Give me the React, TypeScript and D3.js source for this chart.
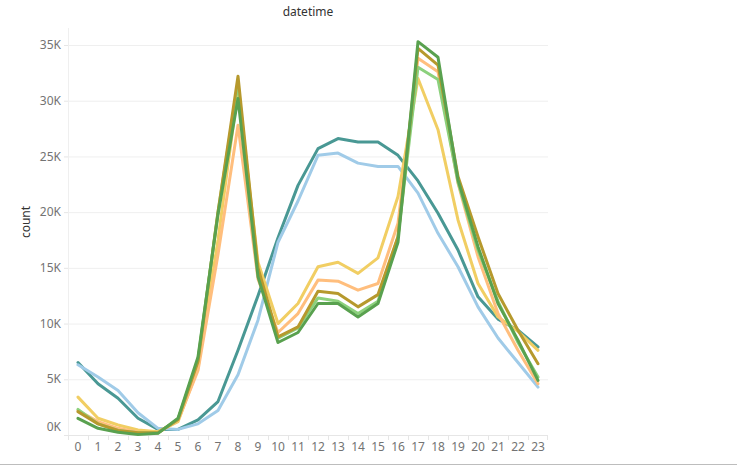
import React from "react";
import * as d3 from "d3";

const hours = d3.range(24).map(String);
const yTicks = [0, 5000, 10000, 15000, 20000, 25000, 30000, 35000];

// series values (count) per hour 0..23
const teal = [6500, 4600, 3300, 1500, 500, 500, 1350, 3000, 7600, 12500, 17700, 22400, 25700, 26600, 26300, 26300, 25100, 22800, 19900, 16600, 12400, 10400, 9400, 7900];
const lightBlue = [6300, 5200, 4000, 2000, 600, 500, 1000, 2200, 5400, 10300, 17300, 21000, 25100, 25300, 24400, 24100, 24100, 21700, 18100, 15100, 11500, 8700, 6500, 4300];
const yellow = [3400, 1500, 900, 450, 300, 1200, 6000, 17500, 31000, 15500, 10000, 11800, 15100, 15500, 14500, 15900, 21400, 32000, 27400, 19300, 13600, 10600, 9300, 7600];
const orange = [2200, 1200, 600, 250, 200, 1300, 5800, 16200, 27800, 14000, 9200, 10900, 13900, 13800, 13000, 13600, 19000, 33800, 32600, 22600, 16000, 10900, 7600, 4600];
const gold = [2100, 1000, 400, 200, 200, 1400, 6600, 20000, 32200, 15000, 8800, 9700, 12900, 12700, 11500, 12600, 17800, 34700, 33200, 23200, 17800, 12700, 9400, 6400];
const lightGreen = [2300, 1000, 400, 200, 200, 1400, 6800, 20000, 31600, 14600, 8700, 9600, 12300, 12000, 10900, 12000, 17800, 33000, 31900, 22700, 16600, 12000, 8300, 5200];
const darkGreen = [1500, 600, 250, 50, 150, 1500, 7000, 19800, 30200, 14200, 8300, 9200, 11800, 11800, 10600, 11800, 17300, 35300, 33900, 22900, 16900, 11800, 8500, 4900];

const seriesList = [
  { name: "teal", values: teal, color: "#499894" },
  { name: "lightBlue", values: lightBlue, color: "#a0cbe8" },
  { name: "yellow", values: yellow, color: "#f1ce63" },
  { name: "orange", values: orange, color: "#ffbe7d" },
  { name: "lightGreen", values: lightGreen, color: "#8cd17d" },
  { name: "gold", values: gold, color: "#b6992d" },
  { name: "darkGreen", values: darkGreen, color: "#59a14f" },
];

const W = 737;
const H = 466;
const plotLeft = 68;
const plotRight = 548;
const plotTop = 28;
const plotBottom = 435;

export default function App() {
  const x = d3.scaleBand<string>().domain(hours).range([plotLeft, plotRight]).padding(0);
  const y = d3.scaleLinear().domain([0, 35000]).range([plotBottom, 45]);
  const cx = (i: number) => (x(hours[i]) as number) + x.bandwidth() / 2;
  const line = d3
    .line<number>()
    .x((_, i) => cx(i))
    .y((d) => y(d));
  const font = "'Noto Sans', 'DejaVu Sans', sans-serif";

  return (
    <svg
      width={W}
      height={H}
      style={{ position: "absolute", left: 0, top: 0, background: "#fff" }}
      fontFamily={font}
    >
      {/* gridlines */}
      {yTicks.slice(1).map((t) => (
        <line key={t} x1={plotLeft} x2={plotRight} y1={y(t) + 0.5} y2={y(t) + 0.5} stroke="#efefef" strokeWidth={1} />
      ))}
      {/* axes */}
      <line x1={plotLeft + 0.5} x2={plotLeft + 0.5} y1={plotTop} y2={plotBottom} stroke="#efefef" />
      <line x1={plotLeft} x2={plotRight} y1={plotBottom + 0.5} y2={plotBottom + 0.5} stroke="#e6e6e6" />
      {hours.map((h) => (
        <line
          key={"tk" + h}
          x1={(x(h) as number) + 0.5}
          x2={(x(h) as number) + 0.5}
          y1={plotBottom}
          y2={plotBottom + 5}
          stroke="#e6e6e6"
        />
      ))}
      <line x1={plotRight - 0.5} x2={plotRight - 0.5} y1={plotBottom} y2={plotBottom + 5} stroke="#e6e6e6" />
      {yTicks.map((t) => (
        <line key={"yt" + t} x1={plotLeft - 4} x2={plotLeft} y1={y(t) + 0.5} y2={y(t) + 0.5} stroke="#e6e6e6" />
      ))}
      {/* y tick labels */}
      {yTicks.map((t) => (
        <text
          key={"yl" + t}
          x={61}
          y={t === 0 ? 427 : y(t)}
          dy="0.35em"
          textAnchor="end"
          fontSize={12}
          fill="#737373"
        >
          {d3.format("d")(t / 1000) + "K"}
        </text>
      ))}
      {/* x tick labels */}
      {hours.map((h, i) => (
        <text key={"xl" + h} x={cx(i)} y={447} dy="0.35em" textAnchor="middle" fontSize={12} fill="#737373">
          {h}
        </text>
      ))}
      {/* titles */}
      <text x={(plotLeft + plotRight) / 2} y={12} dy="0.35em" textAnchor="middle" fontSize={12} fill="#333">
        datetime
      </text>
      <text
        transform={`translate(26, 222) rotate(-90)`}
        dy="0.35em"
        textAnchor="middle"
        fontSize={12}
        fill="#333"
      >
        count
      </text>
      {/* lines */}
      {seriesList.map((s) => (
        <path
          key={s.name}
          d={line(s.values) || ""}
          fill="none"
          stroke={s.color}
          strokeWidth={3}
          strokeLinejoin="round"
          strokeLinecap="round"
        />
      ))}
      {/* bottom border */}
      <line x1={0} x2={W} y1={464.5} y2={464.5} stroke="#bdbdbd" />
    </svg>
  );
}
